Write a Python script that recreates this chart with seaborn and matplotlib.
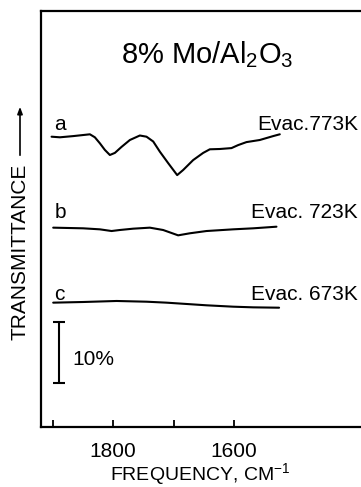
import matplotlib
matplotlib.use("Agg")
import matplotlib.pyplot as plt
import seaborn as sns
import pandas as pd

# ---- data ----
freq_a = [1901.7, 1887.9, 1865.9, 1838.3, 1830.1, 1821.8, 1813.6, 1805.3, 1797.0, 1786.0,
          1772.2, 1755.7, 1744.7, 1733.6, 1722.6, 1708.9, 1694.0, 1684.1, 1667.6, 1651.0,
          1640.0, 1623.5, 1604.2, 1593.2, 1579.4, 1557.4, 1535.3, 1524.3]
trans_a = [48.3, 48.2, 48.4, 48.7, 48.2, 47.2, 46.1, 45.25, 45.6, 46.6,
           47.75, 48.5, 48.3, 47.5, 45.8, 43.9, 41.9, 42.75, 44.4, 45.6,
           46.2, 46.25, 46.4, 46.9, 47.4, 47.75, 48.4, 48.7]

freq_b = [1899, 1849.4, 1821.8, 1802.5, 1788.8, 1766.8, 1739.2, 1717.2, 1692.4, 1673.1,
          1645.5, 1601.5, 1568.4, 1529.8]
trans_b = [33.14, 33.03, 32.86, 32.58, 32.75, 32.97, 33.14, 32.75, 31.86, 32.2,
           32.58, 32.86, 33.03, 33.3]

freq_c = [1899, 1849.4, 1794.2, 1744.6, 1711.6, 1678.5, 1645.5, 1601.5, 1568.4, 1525.5]
trans_c = [20.64, 20.75, 20.92, 20.8, 20.64, 20.42, 20.2, 19.97, 19.86, 19.8]

series_labels = ["a", "b", "c"]
series_notes = ["Evac.773K", "Evac. 723K", "Evac. 673K"]
xticks = [1900, 1800, 1700, 1600]
xticklabels = ["", "1800", "", "1600"]
title = "8% Mo/Al$_2$O$_3$"
xlabel = "FREQUENCY, CM$^{-1}$"
ylabel = "TRANSMITTANCE"
scale_text = "10%"

# ---- style ----
sns.set_style("ticks")
plt.rcParams["font.family"] = ["Liberation Sans", "DejaVu Sans"]
plt.rcParams["mathtext.fontset"] = "custom"
plt.rcParams["mathtext.rm"] = "Liberation Sans"
plt.rcParams["mathtext.it"] = "Liberation Sans:italic"
plt.rcParams["mathtext.bf"] = "Liberation Sans:bold"
for key in ["text.color", "axes.labelcolor", "xtick.color", "ytick.color", "axes.edgecolor"]:
    plt.rcParams[key] = "black"

df = pd.concat([
    pd.DataFrame({"freq": freq_a, "T": trans_a, "s": "a"}),
    pd.DataFrame({"freq": freq_b, "T": trans_b, "s": "b"}),
    pd.DataFrame({"freq": freq_c, "T": trans_c, "s": "c"}),
])

W, H = 361, 487
fig = plt.figure(figsize=(W / 100, H / 100), dpi=100)
left_px, right_px, top_px, bot_px = 40.5, 361, 11, 426.5
ax = fig.add_axes([left_px / W, (H - bot_px) / H, (right_px - left_px) / W, (bot_px - top_px) / H])

sns.lineplot(data=df, x="freq", y="T", hue="s", palette=["black"] * 3,
             sort=False, estimator=None, legend=False, linewidth=1.5, ax=ax)
for ln in ax.lines:
    ln.set_solid_joinstyle("round")
    ln.set_solid_capstyle("round")

ax.set_xlim(1920, 1390)
ax.set_ylim(0, 69.25)
ax.set_xticks(xticks)
ax.set_xticklabels(xticklabels)
ax.set_yticks([])
ax.tick_params(axis="x", direction="in", length=5, width=1.3, pad=11, labelsize=15)
for sp in ["left", "bottom", "top"]:
    ax.spines[sp].set_linewidth(1.6)
ax.spines["right"].set_visible(False)
ax.set_xlabel(xlabel, fontsize=14, labelpad=0)
ax.set_ylabel("")

# curve labels
label_T = [49.4, 34.75, 21.1]
for lab, note, t in zip(series_labels, series_notes, label_T):
    ax.text(1897, t, lab, fontsize=15, ha="left", va="baseline")
    ax.text(1395, t, note, fontsize=15, ha="right", va="baseline")

# title
ax.text(1644, 60.6, title, fontsize=21, ha="center", va="baseline")

# 10% scale bar
ax.errorbar([1889], [12.4], yerr=[5.08], color="black", capsize=4, elinewidth=1.5, capthick=1.5)
ax.text(1868, 11.2, scale_text, fontsize=15, ha="left", va="center")

# y label with arrow
fig.text(20 / W, 1 - 251.5 / H, ylabel, rotation=90, fontsize=15, ha="center", va="center")
fig.add_artist(matplotlib.patches.FancyArrowPatch(
    (20 / W, 1 - 158 / H), (20 / W, 1 - 104 / H), transform=fig.transFigure,
    arrowstyle="-|>,head_length=4,head_width=1.5", color="black", linewidth=1.2))

fig.savefig("out.png", dpi=100)
